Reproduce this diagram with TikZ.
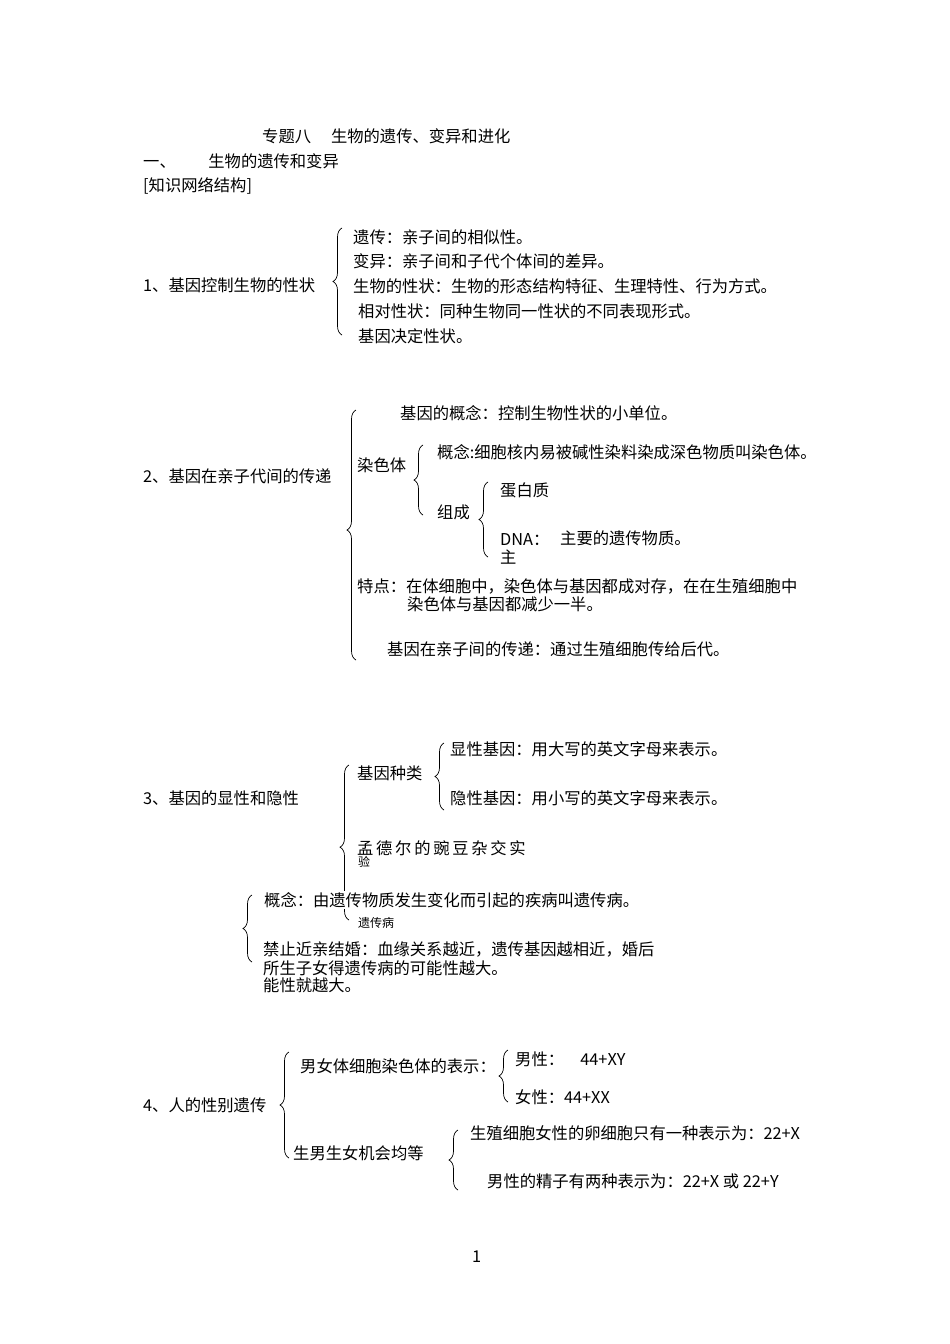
\documentclass[tikz,border=0pt]{standalone}
\usepackage{fontspec}
\setmainfont{Liberation Serif}
\newfontfamily\cjk{Noto Sans CJK SC}[Scale=1.0]
\usetikzlibrary{decorations.pathreplacing}
\begin{document}
\begin{tikzpicture}[x=1pt,y=-1pt,
  t/.style={anchor=west,inner sep=0pt,font=\cjk\fontsize{16.3}{19}\selectfont},
  sm/.style={anchor=west,inner sep=0pt,font=\cjk\fontsize{12}{14}\selectfont},
  br/.style={decorate,decoration={brace,amplitude=9pt,aspect=#1},line width=0.7pt},
  br/.default=0.5]
\useasboundingbox[fill=white] (0,0) rectangle (950,1344);
\node[t] (title) at (262,136) {专题八\quad\ 生物的遗传、变异和进化};
\node[t] (h1) at (143,161) {一、\qquad 生物的遗传和变异};
\node[t] (h2) at (143,186) {[知识网络结构]};
% section 1
\node[t] (s1) at (143,285) {1、基因控制生物的性状};
\draw[br] (342,335) -- (342,228);
\node[t] (a1) at (353,237) {遗传：亲子间的相似性。};
\node[t] (a2) at (353,261) {变异：亲子间和子代个体间的差异。};
\node[t] (a3) at (353,286) {生物的性状：生物的形态结构特征、生理特性、行为方式。};
\node[t] (a4) at (358,311) {相对性状：同种生物同一性状的不同表现形式。};
\node[t] (a5) at (358,336) {基因决定性状。};
% section 2
\node[t] (s2) at (143,476) {2、基因在亲子代间的传递};
\draw[br=0.52] (356,660) -- (356,410);
\node[t] (b1) at (400,413) {基因的概念：控制生物性状的小单位。};
\node[t] (b2) at (357,465) {染色体};
\draw[br] (423,515) -- (423,445);
\node[t] (b3) at (437,452) {概念:细胞核内易被碱性染料染成深色物质叫染色体。};
\node[t] (b4) at (437,512) {组成};
\draw[br] (488,557) -- (488,482);
\node[t] (b5) at (500,490) {蛋白质};
\node[t] (b6) at (500,540) {DNA：};
\node[t] (b7) at (560,538) {主要的遗传物质。};
\node[t] (b8) at (500,557) {主};
\node[t] (b9) at (357,586) {特点：在体细胞中，染色体与基因都成对存，在在生殖细胞中};
\node[t] (b10) at (407,604) {染色体与基因都减少一半。};
\node[t] (b11) at (387,649) {基因在亲子间的传递：通过生殖细胞传给后代。};
% section 3
\node[t] (s3) at (143,798) {3、基因的显性和隐性};
\draw[br=0.47] (349,920) -- (349,765);
\node[t] (c1) at (357,773) {基因种类};
\draw[br] (444,810) -- (444,743);
\node[t] (c2) at (450,749) {显性基因：用大写的英文字母来表示。};
\node[t] (c3) at (450,798) {隐性基因：用小写的英文字母来表示。};
\node[t] (c4) at (357,848) {孟\,德\,尔\,的\,豌\,豆\,杂\,交\,实};
\node[sm] (c5) at (358,862) {验};
\node[sm] (c6) at (358,923) {遗传病};
\draw[br] (252,962) -- (252,895);
\node[t,fill=white,inner sep=1pt] (c7) at (263,900) {概念：由遗传物质发生变化而引起的疾病叫遗传病。};
\node[t] (c8) at (263,950) {禁止近亲结婚：血缘关系越近，遗传基因越相近，婚后};
\node[t] (c9) at (263,968) {所生子女得遗传病的可能性越大。};
\node[t] (c10) at (263,985) {能性就越大。};
% section 4
\node[t] (s4) at (143,1105) {4、人的性别遗传};
\draw[br] (289,1158) -- (289,1052);
\node[t] (d1) at (300,1066) {男女体细胞染色体的表示：};
\draw[br] (508,1102) -- (508,1050);
\node[t] (d2) at (515,1059) {男性：\quad 44+XY};
\node[t] (d3) at (515,1097) {女性：44+XX};
\node[t] (d4) at (293,1153) {生男生女机会均等};
\draw[br] (458,1190) -- (458,1130);
\node[t] (d5) at (470,1133) {生殖细胞女性的卵细胞只有一种表示为：22+X};
\node[t] (d6) at (487,1181) {男性的精子有两种表示为：22+X 或 22+Y};
\node[t] (pg) at (472,1257) {1};
\end{tikzpicture}
\end{document}
